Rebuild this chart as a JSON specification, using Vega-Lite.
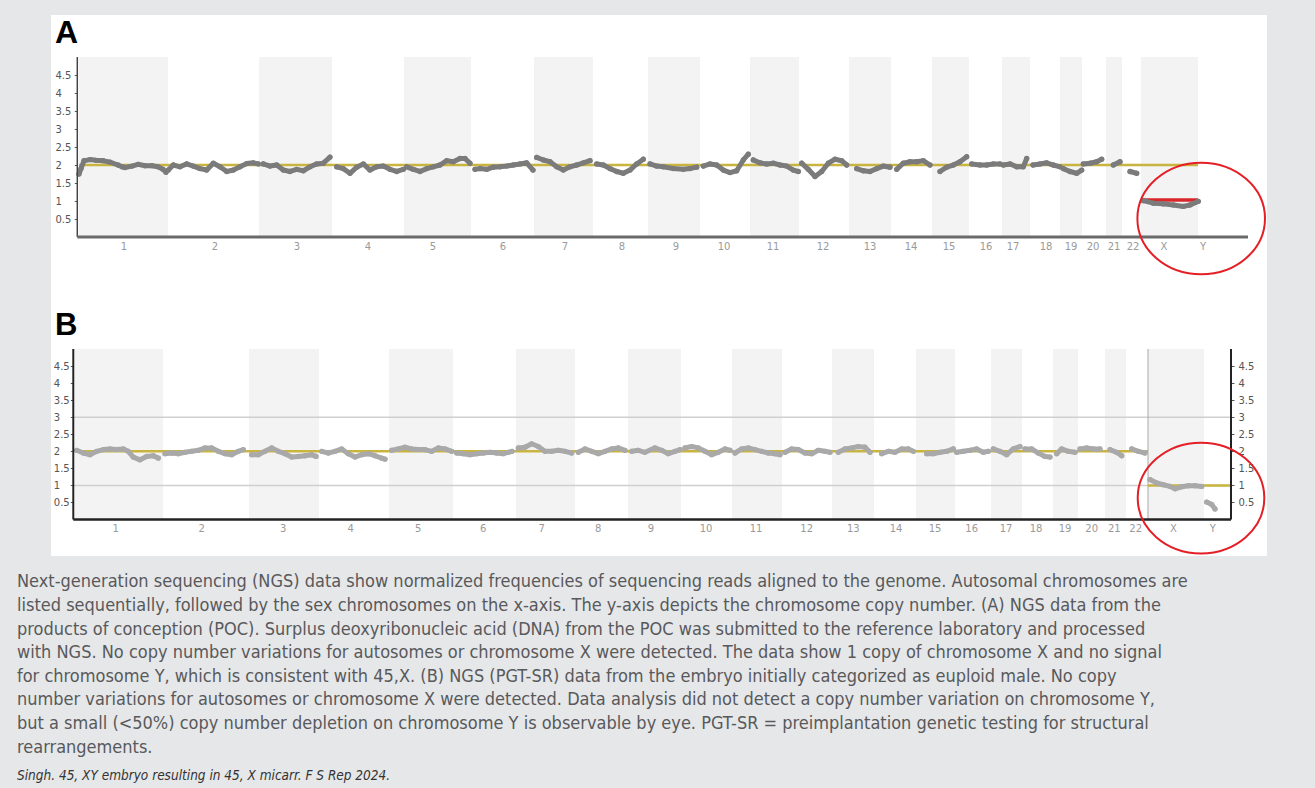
{
 "$schema": "https://vega.github.io/schema/vega-lite/v6.json",
 "background": "#e6e7e9",
 "padding": {"left": 17, "top": 15, "right": 48, "bottom": 12},
 "config": {"view": {"stroke": null}, "font": "DejaVu Sans"},
 "title": {
  "text": [
   "Next-generation sequencing (NGS) data show normalized frequencies of sequencing reads aligned to the genome. Autosomal chromosomes are",
   "listed sequentially, followed by the sex chromosomes on the x-axis. The y-axis depicts the chromosome copy number. (A) NGS data from the",
   "products of conception (POC). Surplus deoxyribonucleic acid (DNA) from the POC was submitted to the reference laboratory and processed",
   "with NGS. No copy number variations for autosomes or chromosome X were detected. The data show 1 copy of chromosome X and no signal",
   "for chromosome Y, which is consistent with 45,X. (B) NGS (PGT-SR) data from the embryo initially categorized as euploid male. No copy",
   "number variations for autosomes or chromosome X were detected. Data analysis did not detect a copy number variation on chromosome Y,",
   "but a small (<50%) copy number depletion on chromosome Y is observable by eye. PGT-SR = preimplantation genetic testing for structural",
   "rearrangements."
  ],
  "orient": "bottom", "anchor": "start", "dx": -34, "offset": 16,
  "font": "DejaVu Sans Condensed, Liberation Sans Narrow, Roboto Condensed, sans-serif",
  "fontSize": 18, "fontWeight": "normal", "color": "#58595b", "lineHeight": 23.6,
  "subtitle": "Singh. 45, XY embryo resulting in 45, X micarr. F S Rep 2024.",
  "subtitleFont": "DejaVu Sans Condensed, Liberation Sans Narrow, sans-serif",
  "subtitleFontSize": 13.5, "subtitleFontStyle": "italic", "subtitleColor": "#333333", "subtitlePadding": 12
 },
 "spacing": 0,
 "datasets": {
  "chrA": [
   {"chr":"1","start":0,"end":89,"lab":45,"shade":1},
   {"chr":"2","start":89,"end":180,"lab":136,"shade":0},
   {"chr":"3","start":180,"end":253,"lab":218,"shade":1},
   {"chr":"4","start":253,"end":325,"lab":289,"shade":0},
   {"chr":"5","start":325,"end":392,"lab":354,"shade":1},
   {"chr":"6","start":392,"end":455,"lab":424,"shade":0},
   {"chr":"7","start":455,"end":514,"lab":486,"shade":1},
   {"chr":"8","start":514,"end":569,"lab":543,"shade":0},
   {"chr":"9","start":569,"end":621,"lab":597,"shade":1},
   {"chr":"10","start":621,"end":671,"lab":645,"shade":0},
   {"chr":"11","start":671,"end":720,"lab":694,"shade":1},
   {"chr":"12","start":720,"end":770,"lab":744,"shade":0},
   {"chr":"13","start":770,"end":812,"lab":791,"shade":1},
   {"chr":"14","start":812,"end":853,"lab":832,"shade":0},
   {"chr":"15","start":853,"end":890,"lab":870,"shade":1},
   {"chr":"16","start":890,"end":923,"lab":907,"shade":0},
   {"chr":"17","start":923,"end":951,"lab":934,"shade":1},
   {"chr":"18","start":951,"end":981,"lab":967,"shade":0},
   {"chr":"19","start":981,"end":1003,"lab":992,"shade":1},
   {"chr":"20","start":1003,"end":1027,"lab":1014,"shade":0},
   {"chr":"21","start":1027,"end":1043,"lab":1035,"shade":1},
   {"chr":"22","start":1043,"end":1062,"lab":1054,"shade":0},
   {"chr":"X","start":1062,"end":1119,"lab":1085,"shade":1},
   {"chr":"Y","start":1119,"end":1141,"lab":1124,"shade":0}
  ],
  "chrB": [
   {"chr":"1","start":0,"end":88,"lab":40.7,"shade":1},
   {"chr":"2","start":88,"end":174,"lab":126.7,"shade":0},
   {"chr":"3","start":174,"end":244,"lab":208.3,"shade":1},
   {"chr":"4","start":244,"end":314,"lab":275.7,"shade":0},
   {"chr":"5","start":314,"end":378,"lab":343.3,"shade":1},
   {"chr":"6","start":378,"end":441,"lab":408.3,"shade":0},
   {"chr":"7","start":441,"end":500,"lab":466.7,"shade":1},
   {"chr":"8","start":500,"end":553,"lab":523.3,"shade":0},
   {"chr":"9","start":553,"end":606,"lab":576,"shade":1},
   {"chr":"10","start":606,"end":657,"lab":631,"shade":0},
   {"chr":"11","start":657,"end":707,"lab":681,"shade":1},
   {"chr":"12","start":707,"end":757,"lab":731.7,"shade":0},
   {"chr":"13","start":757,"end":799,"lab":778.3,"shade":1},
   {"chr":"14","start":799,"end":841,"lab":821,"shade":0},
   {"chr":"15","start":841,"end":880,"lab":860,"shade":1},
   {"chr":"16","start":880,"end":916,"lab":896.7,"shade":0},
   {"chr":"17","start":916,"end":947,"lab":931,"shade":1},
   {"chr":"18","start":947,"end":978,"lab":961,"shade":0},
   {"chr":"19","start":978,"end":1003,"lab":990,"shade":1},
   {"chr":"20","start":1003,"end":1030,"lab":1016.7,"shade":0},
   {"chr":"21","start":1030,"end":1051,"lab":1039.3,"shade":1},
   {"chr":"22","start":1051,"end":1073,"lab":1060.7,"shade":0},
   {"chr":"X","start":1073,"end":1129,"lab":1098.3,"shade":1},
   {"chr":"Y","start":1129,"end":1156,"lab":1137.7,"shade":0}
  ],
  "ptsA": [
   {"chr":"1","pos":0,"cn":1.75},{"chr":"1","pos":2,"cn":1.9},{"chr":"1","pos":5,"cn":2.12},{"chr":"1","pos":11,"cn":2.15},{"chr":"1","pos":17,"cn":2.13},{"chr":"1","pos":24,"cn":2.12},{"chr":"1","pos":31,"cn":2.08},{"chr":"1","pos":39,"cn":2.0},{"chr":"1","pos":43,"cn":1.95},{"chr":"1","pos":46,"cn":1.93},{"chr":"1","pos":53,"cn":1.97},{"chr":"1","pos":59,"cn":2.02},{"chr":"1","pos":66,"cn":1.98},{"chr":"1","pos":73,"cn":1.98},{"chr":"1","pos":79,"cn":1.95},{"chr":"1","pos":84,"cn":1.88},{"chr":"1","pos":87,"cn":1.8},
   {"chr":"2","pos":89.3,"cn":1.86},{"chr":"2","pos":94.3,"cn":2.0},{"chr":"2","pos":101,"cn":1.95},{"chr":"2","pos":107.7,"cn":2.03},{"chr":"2","pos":114.3,"cn":1.97},{"chr":"2","pos":121,"cn":1.9},{"chr":"2","pos":127.7,"cn":1.86},{"chr":"2","pos":134.3,"cn":2.05},{"chr":"2","pos":141,"cn":1.95},{"chr":"2","pos":147.7,"cn":1.82},{"chr":"2","pos":154.3,"cn":1.86},{"chr":"2","pos":161,"cn":1.95},{"chr":"2","pos":167.7,"cn":2.04},{"chr":"2","pos":174.3,"cn":2.06},{"chr":"2","pos":179.3,"cn":2.03},
   {"chr":"3","pos":184.3,"cn":2.03},{"chr":"3","pos":191,"cn":1.97},{"chr":"3","pos":197.7,"cn":2.0},{"chr":"3","pos":204.3,"cn":1.86},{"chr":"3","pos":211,"cn":1.82},{"chr":"3","pos":217.7,"cn":1.88},{"chr":"3","pos":224.3,"cn":1.84},{"chr":"3","pos":231,"cn":1.95},{"chr":"3","pos":237.7,"cn":2.03},{"chr":"3","pos":244.3,"cn":2.05},{"chr":"3","pos":251,"cn":2.22},
   {"chr":"4","pos":257.7,"cn":1.95},{"chr":"4","pos":264.3,"cn":1.9},{"chr":"4","pos":271,"cn":1.77},{"chr":"4","pos":277.7,"cn":1.94},{"chr":"4","pos":284.3,"cn":2.03},{"chr":"4","pos":291,"cn":1.86},{"chr":"4","pos":297.7,"cn":1.95},{"chr":"4","pos":304.3,"cn":1.97},{"chr":"4","pos":311,"cn":1.88},{"chr":"4","pos":317.7,"cn":1.82},{"chr":"4","pos":324.3,"cn":1.88},
   {"chr":"5","pos":327.7,"cn":1.95},{"chr":"5","pos":334.3,"cn":1.88},{"chr":"5","pos":341,"cn":1.82},{"chr":"5","pos":347.7,"cn":1.9},{"chr":"5","pos":354.3,"cn":1.95},{"chr":"5","pos":361,"cn":2.0},{"chr":"5","pos":367.7,"cn":2.12},{"chr":"5","pos":374.3,"cn":2.09},{"chr":"5","pos":381,"cn":2.18},{"chr":"5","pos":386,"cn":2.18},{"chr":"5","pos":391,"cn":2.05},
   {"chr":"6","pos":396,"cn":1.88},{"chr":"6","pos":401,"cn":1.9},{"chr":"6","pos":407.7,"cn":1.88},{"chr":"6","pos":414.3,"cn":1.94},{"chr":"6","pos":421,"cn":1.95},{"chr":"6","pos":427.7,"cn":1.97},{"chr":"6","pos":434.3,"cn":2.0},{"chr":"6","pos":441,"cn":2.03},{"chr":"6","pos":447.7,"cn":2.06},{"chr":"6","pos":454,"cn":1.86},
   {"chr":"7","pos":457.7,"cn":2.21},{"chr":"7","pos":464.3,"cn":2.14},{"chr":"7","pos":471,"cn":2.09},{"chr":"7","pos":477.7,"cn":1.95},{"chr":"7","pos":484.3,"cn":1.86},{"chr":"7","pos":491,"cn":1.95},{"chr":"7","pos":497.7,"cn":2.0},{"chr":"7","pos":504.3,"cn":2.06},{"chr":"7","pos":511,"cn":2.12},
   {"chr":"8","pos":517.7,"cn":2.03},{"chr":"8","pos":524.3,"cn":2.0},{"chr":"8","pos":531,"cn":1.9},{"chr":"8","pos":537.7,"cn":1.82},{"chr":"8","pos":544.3,"cn":1.77},{"chr":"8","pos":551,"cn":1.86},{"chr":"8","pos":557.7,"cn":2.03},{"chr":"8","pos":564.3,"cn":2.16},
   {"chr":"9","pos":571,"cn":2.03},{"chr":"9","pos":577.7,"cn":1.97},{"chr":"9","pos":584.3,"cn":1.95},{"chr":"9","pos":594.3,"cn":1.9},{"chr":"9","pos":604.3,"cn":1.88},{"chr":"9","pos":611,"cn":1.9},{"chr":"9","pos":617.7,"cn":1.94},
   {"chr":"10","pos":624.3,"cn":1.97},{"chr":"10","pos":631,"cn":2.03},{"chr":"10","pos":637.7,"cn":2.0},{"chr":"10","pos":644.3,"cn":1.86},{"chr":"10","pos":651,"cn":1.79},{"chr":"10","pos":657.7,"cn":1.84},{"chr":"10","pos":664.3,"cn":2.14},{"chr":"10","pos":669.3,"cn":2.3},
   {"chr":"11","pos":674.3,"cn":2.14},{"chr":"11","pos":681,"cn":2.06},{"chr":"11","pos":687.7,"cn":2.03},{"chr":"11","pos":694.3,"cn":2.05},{"chr":"11","pos":701,"cn":2.0},{"chr":"11","pos":707.7,"cn":1.97},{"chr":"11","pos":714.3,"cn":1.86},{"chr":"11","pos":719.3,"cn":1.82},
   {"chr":"12","pos":722.7,"cn":2.05},{"chr":"12","pos":729.3,"cn":1.88},{"chr":"12","pos":736,"cn":1.68},{"chr":"12","pos":742.7,"cn":1.82},{"chr":"12","pos":749.3,"cn":2.05},{"chr":"12","pos":756,"cn":2.16},{"chr":"12","pos":762.7,"cn":2.12},{"chr":"12","pos":767.7,"cn":2.0},
   {"chr":"13","pos":777.7,"cn":1.9},{"chr":"13","pos":784.3,"cn":1.84},{"chr":"13","pos":791,"cn":1.82},{"chr":"13","pos":797.7,"cn":1.9},{"chr":"13","pos":804.3,"cn":1.97},{"chr":"13","pos":811,"cn":1.94},
   {"chr":"14","pos":817.7,"cn":1.88},{"chr":"14","pos":824.3,"cn":2.05},{"chr":"14","pos":831,"cn":2.09},{"chr":"14","pos":837.7,"cn":2.09},{"chr":"14","pos":844.3,"cn":2.12},{"chr":"14","pos":851,"cn":2.0},
   {"chr":"15","pos":861,"cn":1.82},{"chr":"15","pos":867.7,"cn":1.94},{"chr":"15","pos":874.3,"cn":2.0},{"chr":"15","pos":881,"cn":2.09},{"chr":"15","pos":887.7,"cn":2.23},
   {"chr":"16","pos":892.7,"cn":2.03},{"chr":"16","pos":901,"cn":2.0},{"chr":"16","pos":907.7,"cn":2.0},{"chr":"16","pos":914.3,"cn":2.03},{"chr":"16","pos":921,"cn":2.03},
   {"chr":"17","pos":924.3,"cn":2.0},{"chr":"17","pos":931,"cn":2.03},{"chr":"17","pos":937.7,"cn":1.95},{"chr":"17","pos":944.3,"cn":1.95},{"chr":"17","pos":947.7,"cn":2.18},
   {"chr":"18","pos":954,"cn":2.0},{"chr":"18","pos":961,"cn":2.03},{"chr":"18","pos":967.7,"cn":2.06},{"chr":"18","pos":974.3,"cn":2.0},{"chr":"18","pos":981,"cn":1.95},
   {"chr":"19","pos":984.3,"cn":1.9},{"chr":"19","pos":991,"cn":1.82},{"chr":"19","pos":997.7,"cn":1.77},{"chr":"19","pos":1002.7,"cn":1.86},
   {"chr":"20","pos":1004.3,"cn":2.03},{"chr":"20","pos":1011,"cn":2.05},{"chr":"20","pos":1017.7,"cn":2.09},{"chr":"20","pos":1022.7,"cn":2.16},
   {"chr":"21","pos":1034.3,"cn":2.0},{"chr":"21","pos":1041,"cn":2.09},
   {"chr":"22","pos":1051,"cn":1.82},{"chr":"22","pos":1057.7,"cn":1.77},
   {"chr":"X","pos":1064.3,"cn":1.01},{"chr":"X","pos":1074.3,"cn":0.94},{"chr":"X","pos":1084.3,"cn":0.92},{"chr":"X","pos":1094.3,"cn":0.89},{"chr":"X","pos":1104.3,"cn":0.85},{"chr":"X","pos":1111,"cn":0.89},{"chr":"X","pos":1119.3,"cn":0.99}
  ],
  "ptsB": [
   {"chr":"1","pos":1.7,"cn":2.03},{"chr":"1","pos":8.3,"cn":1.95},{"chr":"1","pos":15,"cn":1.9},{"chr":"1","pos":21.7,"cn":2.0},{"chr":"1","pos":28.3,"cn":2.05},{"chr":"1","pos":35,"cn":2.07},{"chr":"1","pos":41.7,"cn":2.05},{"chr":"1","pos":48.3,"cn":2.07},{"chr":"1","pos":53.3,"cn":2.0},{"chr":"1","pos":58.3,"cn":1.83},{"chr":"1","pos":65,"cn":1.75},{"chr":"1","pos":71.7,"cn":1.85},{"chr":"1","pos":78.3,"cn":1.87},{"chr":"1","pos":83.3,"cn":1.8},
   {"chr":"2","pos":90,"cn":1.93},{"chr":"2","pos":96.7,"cn":1.95},{"chr":"2","pos":103.3,"cn":1.93},{"chr":"2","pos":110,"cn":1.97},{"chr":"2","pos":116.7,"cn":2.0},{"chr":"2","pos":123.3,"cn":2.03},{"chr":"2","pos":130,"cn":2.1},{"chr":"2","pos":136.7,"cn":2.1},{"chr":"2","pos":143.3,"cn":2.0},{"chr":"2","pos":150,"cn":1.93},{"chr":"2","pos":156.7,"cn":1.9},{"chr":"2","pos":163.3,"cn":2.0},{"chr":"2","pos":168.3,"cn":2.05},
   {"chr":"3","pos":176.7,"cn":1.9},{"chr":"3","pos":183.3,"cn":1.9},{"chr":"3","pos":190,"cn":2.0},{"chr":"3","pos":196.7,"cn":2.1},{"chr":"3","pos":203.3,"cn":2.0},{"chr":"3","pos":210,"cn":1.93},{"chr":"3","pos":216.7,"cn":1.83},{"chr":"3","pos":223.3,"cn":1.85},{"chr":"3","pos":230,"cn":1.87},{"chr":"3","pos":236.7,"cn":1.9},{"chr":"3","pos":241,"cn":1.85},
   {"chr":"4","pos":246.7,"cn":2.0},{"chr":"4","pos":253.3,"cn":1.95},{"chr":"4","pos":260,"cn":2.0},{"chr":"4","pos":266.7,"cn":2.07},{"chr":"4","pos":273.3,"cn":1.93},{"chr":"4","pos":280,"cn":1.83},{"chr":"4","pos":286.7,"cn":1.9},{"chr":"4","pos":293.3,"cn":1.93},{"chr":"4","pos":300,"cn":1.87},{"chr":"4","pos":306.7,"cn":1.8},{"chr":"4","pos":310,"cn":1.77},
   {"chr":"5","pos":316.7,"cn":2.03},{"chr":"5","pos":323.3,"cn":2.07},{"chr":"5","pos":330,"cn":2.12},{"chr":"5","pos":336.7,"cn":2.07},{"chr":"5","pos":343.3,"cn":2.05},{"chr":"5","pos":350,"cn":2.05},{"chr":"5","pos":356.7,"cn":2.0},{"chr":"5","pos":363.3,"cn":2.1},{"chr":"5","pos":370,"cn":2.07},{"chr":"5","pos":376.7,"cn":2.0},
   {"chr":"6","pos":381.7,"cn":1.95},{"chr":"6","pos":388.3,"cn":1.93},{"chr":"6","pos":395,"cn":1.9},{"chr":"6","pos":401.7,"cn":1.93},{"chr":"6","pos":408.3,"cn":1.95},{"chr":"6","pos":415,"cn":1.97},{"chr":"6","pos":421.7,"cn":1.95},{"chr":"6","pos":428.3,"cn":1.93},{"chr":"6","pos":433.3,"cn":1.97},{"chr":"6","pos":437,"cn":2.0},
   {"chr":"7","pos":443.3,"cn":2.1},{"chr":"7","pos":450,"cn":2.12},{"chr":"7","pos":456.7,"cn":2.22},{"chr":"7","pos":463.3,"cn":2.14},{"chr":"7","pos":470,"cn":2.0},{"chr":"7","pos":476.7,"cn":2.0},{"chr":"7","pos":483.3,"cn":2.03},{"chr":"7","pos":490,"cn":2.0},{"chr":"7","pos":496.7,"cn":1.95},
   {"chr":"8","pos":503.3,"cn":1.97},{"chr":"8","pos":510,"cn":2.07},{"chr":"8","pos":516.7,"cn":2.0},{"chr":"8","pos":523.3,"cn":1.93},{"chr":"8","pos":530,"cn":2.0},{"chr":"8","pos":536.7,"cn":2.07},{"chr":"8","pos":543.3,"cn":2.1},{"chr":"8","pos":550,"cn":2.03},
   {"chr":"9","pos":556.7,"cn":2.0},{"chr":"9","pos":563.3,"cn":2.03},{"chr":"9","pos":570,"cn":1.97},{"chr":"9","pos":580,"cn":2.1},{"chr":"9","pos":586.7,"cn":2.03},{"chr":"9","pos":593.3,"cn":1.93},{"chr":"9","pos":600,"cn":2.0},{"chr":"9","pos":605,"cn":2.05},
   {"chr":"10","pos":610,"cn":2.1},{"chr":"10","pos":616.7,"cn":2.14},{"chr":"10","pos":623.3,"cn":2.1},{"chr":"10","pos":630,"cn":2.0},{"chr":"10","pos":636.7,"cn":1.9},{"chr":"10","pos":643.3,"cn":1.97},{"chr":"10","pos":650,"cn":2.07},{"chr":"10","pos":655,"cn":2.03},
   {"chr":"11","pos":660,"cn":1.95},{"chr":"11","pos":666.7,"cn":2.07},{"chr":"11","pos":673.3,"cn":2.1},{"chr":"11","pos":680,"cn":2.05},{"chr":"11","pos":686.7,"cn":2.0},{"chr":"11","pos":693.3,"cn":1.95},{"chr":"11","pos":700,"cn":1.93},{"chr":"11","pos":705,"cn":1.9},
   {"chr":"12","pos":710,"cn":1.97},{"chr":"12","pos":716.7,"cn":2.07},{"chr":"12","pos":723.3,"cn":2.05},{"chr":"12","pos":730,"cn":1.95},{"chr":"12","pos":736.7,"cn":1.93},{"chr":"12","pos":743.3,"cn":2.03},{"chr":"12","pos":750,"cn":2.0},{"chr":"12","pos":755,"cn":1.97},
   {"chr":"13","pos":763.3,"cn":1.97},{"chr":"13","pos":770,"cn":2.07},{"chr":"13","pos":776.7,"cn":2.1},{"chr":"13","pos":783.3,"cn":2.14},{"chr":"13","pos":790,"cn":2.12},{"chr":"13","pos":795,"cn":1.97},
   {"chr":"14","pos":806.7,"cn":1.93},{"chr":"14","pos":813.3,"cn":2.0},{"chr":"14","pos":820,"cn":1.97},{"chr":"14","pos":826.7,"cn":2.07},{"chr":"14","pos":833.3,"cn":2.07},{"chr":"14","pos":838.3,"cn":2.0},
   {"chr":"15","pos":851.7,"cn":1.93},{"chr":"15","pos":858.3,"cn":1.93},{"chr":"15","pos":865,"cn":1.97},{"chr":"15","pos":871.7,"cn":2.0},{"chr":"15","pos":878.3,"cn":2.07},
   {"chr":"16","pos":881.7,"cn":1.97},{"chr":"16","pos":888.3,"cn":2.0},{"chr":"16","pos":895,"cn":2.03},{"chr":"16","pos":901.7,"cn":2.07},{"chr":"16","pos":908.3,"cn":1.97},{"chr":"16","pos":913.3,"cn":2.0},
   {"chr":"17","pos":918.3,"cn":2.07},{"chr":"17","pos":925,"cn":2.0},{"chr":"17","pos":931.7,"cn":1.9},{"chr":"17","pos":938.3,"cn":2.07},{"chr":"17","pos":945,"cn":2.14},
   {"chr":"18","pos":950,"cn":2.07},{"chr":"18","pos":956.7,"cn":2.07},{"chr":"18","pos":963.3,"cn":1.95},{"chr":"18","pos":970,"cn":1.85},{"chr":"18","pos":975,"cn":1.83},
   {"chr":"19","pos":981.7,"cn":1.93},{"chr":"19","pos":986.7,"cn":2.07},{"chr":"19","pos":993.3,"cn":2.0},{"chr":"19","pos":1000,"cn":1.97},
   {"chr":"20","pos":1005,"cn":2.07},{"chr":"20","pos":1011.7,"cn":2.1},{"chr":"20","pos":1018.3,"cn":2.07},{"chr":"20","pos":1025,"cn":2.07},
   {"chr":"21","pos":1035,"cn":2.05},{"chr":"21","pos":1041.7,"cn":1.97},{"chr":"21","pos":1046.7,"cn":1.87},
   {"chr":"22","pos":1056.7,"cn":2.07},{"chr":"22","pos":1063.3,"cn":2.0},{"chr":"22","pos":1070,"cn":1.95},
   {"chr":"X","pos":1075,"cn":1.17},{"chr":"X","pos":1081.7,"cn":1.07},{"chr":"X","pos":1088.3,"cn":1.02},{"chr":"X","pos":1095,"cn":0.97},{"chr":"X","pos":1100,"cn":0.9},{"chr":"X","pos":1106.7,"cn":0.96},{"chr":"X","pos":1113.3,"cn":0.99},{"chr":"X","pos":1120,"cn":0.99},{"chr":"X","pos":1126.7,"cn":0.97},
   {"chr":"Y","pos":1131.7,"cn":0.51},{"chr":"Y","pos":1136.7,"cn":0.44},{"chr":"Y","pos":1140,"cn":0.31}
  ]
 },
 "vconcat": [
  {
   "width": 1216, "height": 280,
   "view": {"fill": "white", "stroke": null},
   "resolve": {"axis": {"y": "independent"}},
   "layer": [
    {
     "data": {"name": "chrA"},
     "transform": [{"filter": "datum.shade == 1"}],
     "mark": {"type": "rect", "color": "#f3f3f3"},
     "encoding": {
      "x": {"field": "start", "type": "quantitative", "scale": {"domain": [-28, 1188], "nice": false, "zero": false}, "axis": null},
      "x2": {"field": "end"},
      "y": {"datum": 0, "type": "quantitative", "scale": {"domain": [-1.6111, 6.1667], "nice": false, "zero": false},
       "axis": {"orient": "left", "offset": -26.3, "values": [0.5,1,1.5,2,2.5,3,3.5,4,4.5], "labelExpr": "'' + datum.value", "domain": false, "grid": false, "tickSize": 3, "tickColor": "#555555", "tickWidth": 1, "labelAlign": "left", "labelBaseline": "middle", "labelPadding": 19.3, "labelFont": "DejaVu Sans", "labelFontSize": 10, "labelColor": "#555555", "labelFlush": false, "labelOverlap": false, "title": null}},
      "y2": {"datum": 5}
     }
    },
    {
     "data": {"values": [{}]},
     "mark": {"type": "rule", "color": "#c9b43f", "strokeWidth": 2.5},
     "encoding": {
      "x": {"datum": 0, "type": "quantitative", "axis": null},
      "x2": {"datum": 1119},
      "y": {"datum": 2, "type": "quantitative", "axis": null}
     }
    },
    {
     "data": {"values": [{}]},
     "mark": {"type": "rule", "color": "#d9262b", "strokeWidth": 3.5},
     "encoding": {
      "x": {"datum": 1062, "type": "quantitative", "axis": null},
      "x2": {"datum": 1119},
      "y": {"datum": 1.03, "type": "quantitative", "axis": null}
     }
    },
    {
     "data": {"name": "ptsA"},
     "mark": {"type": "line", "color": "#7b7b7b", "strokeWidth": 5, "strokeCap": "round", "strokeJoin": "round"},
     "encoding": {
      "x": {"field": "pos", "type": "quantitative", "axis": null},
      "y": {"field": "cn", "type": "quantitative", "axis": null},
      "detail": {"field": "chr"}
     }
    },
    {
     "data": {"name": "ptsA"},
     "mark": {"type": "circle", "color": "#7b7b7b", "size": 28, "opacity": 1},
     "encoding": {
      "x": {"field": "pos", "type": "quantitative", "axis": null},
      "y": {"field": "cn", "type": "quantitative", "axis": null}
     }
    },
    {
     "data": {"values": [{}]},
     "mark": {"type": "rule", "color": "#444444", "strokeWidth": 1.5},
     "encoding": {
      "x": {"datum": -1.7, "type": "quantitative", "axis": null},
      "y": {"datum": 0, "type": "quantitative", "axis": null},
      "y2": {"datum": 5}
     }
    },
    {
     "data": {"values": [{}]},
     "mark": {"type": "rule", "color": "#6a6a6a", "strokeWidth": 3},
     "encoding": {
      "x": {"datum": -1.7, "type": "quantitative", "axis": null},
      "x2": {"datum": 1169},
      "y": {"datum": 0, "type": "quantitative", "axis": null}
     }
    },
    {
     "data": {"name": "chrA"},
     "mark": {"type": "text", "font": "DejaVu Sans", "fontSize": 10, "color": "#9a9a9a", "baseline": "middle", "align": "center"},
     "encoding": {
      "x": {"field": "lab", "type": "quantitative", "axis": null},
      "y": {"datum": -0.28, "type": "quantitative", "axis": null},
      "text": {"field": "chr"}
     }
    },
    {
     "data": {"values": [{}]},
     "mark": {"type": "text", "text": "A", "font": "Liberation Sans", "fontWeight": "bold", "fontSize": 32, "color": "#000000", "align": "left", "baseline": "alphabetic"},
     "encoding": {
      "x": {"datum": -24, "type": "quantitative", "axis": null},
      "y": {"datum": 5.389, "type": "quantitative", "axis": null}
     }
    },
    {
     "data": {"values": [{}]},
     "mark": {"type": "point", "shape": "M-1,0A1,0.875,0,1,1,1,0A1,0.875,0,1,1,-1,0Z", "size": 16282, "filled": false, "stroke": "#e41f26", "strokeWidth": 2, "opacity": 1},
     "encoding": {
      "x": {"datum": 1122.2, "type": "quantitative", "axis": null},
      "y": {"datum": 0.514, "type": "quantitative", "axis": null}
     }
    }
   ]
  },
  {
   "width": 1216, "height": 261,
   "view": {"fill": "white", "stroke": null},
   "resolve": {"axis": {"y": "independent"}},
   "layer": [
    {
     "data": {"name": "chrB"},
     "transform": [{"filter": "datum.shade == 1"}],
     "mark": {"type": "rect", "color": "#f3f3f3"},
     "encoding": {
      "x": {"field": "start", "type": "quantitative", "scale": {"domain": [-24, 1192], "nice": false, "zero": false}, "axis": null},
      "x2": {"field": "end"},
      "y": {"datum": 0, "type": "quantitative", "scale": {"domain": [-1.0704, 6.5836], "nice": false, "zero": false}, "axis": null},
      "y2": {"datum": 5}
     }
    },
    {
     "data": {"values": [{"v": 1}, {"v": 3}]},
     "mark": {"type": "rule", "color": "#cfcfcf", "strokeWidth": 1.5},
     "encoding": {
      "x": {"datum": -1.7, "type": "quantitative", "axis": null},
      "x2": {"datum": 1156},
      "y": {"field": "v", "type": "quantitative",
       "axis": {"orient": "right", "offset": -36, "values": [0.5,1,1.5,2,2.5,3,3.5,4,4.5], "labelExpr": "'' + datum.value", "domain": false, "grid": false, "tickSize": 3, "tickColor": "#555555", "tickWidth": 1, "labelAlign": "left", "labelBaseline": "middle", "labelPadding": 4, "labelFont": "DejaVu Sans", "labelFontSize": 10, "labelColor": "#555555", "labelFlush": false, "labelOverlap": false, "title": null}}
     }
    },
    {
     "data": {"values": [{}]},
     "mark": {"type": "rule", "color": "#a8a8a8", "strokeWidth": 1},
     "encoding": {
      "x": {"datum": 1073, "type": "quantitative", "axis": null},
      "y": {"datum": 0, "type": "quantitative", "axis": null},
      "y2": {"datum": 5}
     }
    },
    {
     "data": {"values": [{}]},
     "mark": {"type": "rule", "color": "#c9b43f", "strokeWidth": 2.5},
     "encoding": {
      "x": {"datum": 0, "type": "quantitative", "axis": null},
      "x2": {"datum": 1073},
      "y": {"datum": 2, "type": "quantitative", "axis": null}
     }
    },
    {
     "data": {"values": [{}]},
     "mark": {"type": "rule", "color": "#c9b43f", "strokeWidth": 2.5},
     "encoding": {
      "x": {"datum": 1073, "type": "quantitative", "axis": null},
      "x2": {"datum": 1156},
      "y": {"datum": 1, "type": "quantitative", "axis": null}
     }
    },
    {
     "data": {"name": "ptsB"},
     "mark": {"type": "line", "color": "#a9a9a9", "strokeWidth": 5, "strokeCap": "round", "strokeJoin": "round"},
     "encoding": {
      "x": {"field": "pos", "type": "quantitative", "axis": null},
      "y": {"field": "cn", "type": "quantitative", "axis": null},
      "detail": {"field": "chr"}
     }
    },
    {
     "data": {"name": "ptsB"},
     "mark": {"type": "circle", "color": "#a9a9a9", "size": 28, "opacity": 1},
     "encoding": {
      "x": {"field": "pos", "type": "quantitative", "axis": null},
      "y": {"field": "cn", "type": "quantitative",
       "axis": {"orient": "left", "offset": -22.3, "values": [0.5,1,1.5,2,2.5,3,3.5,4,4.5], "labelExpr": "'' + datum.value", "domain": false, "grid": false, "tickSize": 3, "tickColor": "#555555", "tickWidth": 1, "labelAlign": "left", "labelBaseline": "middle", "labelPadding": 17, "labelFont": "DejaVu Sans", "labelFontSize": 10, "labelColor": "#555555", "labelFlush": false, "labelOverlap": false, "title": null}}
     }
    },
    {
     "data": {"values": [{}]},
     "mark": {"type": "rule", "color": "#222222", "strokeWidth": 2},
     "encoding": {
      "x": {"datum": -1.7, "type": "quantitative", "axis": null},
      "y": {"datum": 0, "type": "quantitative", "axis": null},
      "y2": {"datum": 5}
     }
    },
    {
     "data": {"values": [{}]},
     "mark": {"type": "rule", "color": "#222222", "strokeWidth": 2},
     "encoding": {
      "x": {"datum": 1156, "type": "quantitative", "axis": null},
      "y": {"datum": 0, "type": "quantitative", "axis": null},
      "y2": {"datum": 5}
     }
    },
    {
     "data": {"values": [{}]},
     "mark": {"type": "rule", "color": "#222222", "strokeWidth": 2.5},
     "encoding": {
      "x": {"datum": -1.7, "type": "quantitative", "axis": null},
      "x2": {"datum": 1156},
      "y": {"datum": 0, "type": "quantitative", "axis": null}
     }
    },
    {
     "data": {"name": "chrB"},
     "mark": {"type": "text", "font": "DejaVu Sans", "fontSize": 10, "color": "#9a9a9a", "baseline": "middle", "align": "center"},
     "encoding": {
      "x": {"field": "lab", "type": "quantitative", "axis": null},
      "y": {"datum": -0.279, "type": "quantitative", "axis": null},
      "text": {"field": "chr"}
     }
    },
    {
     "data": {"values": [{}]},
     "mark": {"type": "text", "text": "B", "font": "Liberation Sans", "fontWeight": "bold", "fontSize": 31, "color": "#000000", "align": "left", "baseline": "alphabetic"},
     "encoding": {
      "x": {"datum": -20, "type": "quantitative", "axis": null},
      "y": {"datum": 5.41, "type": "quantitative", "axis": null}
     }
    },
    {
     "data": {"values": [{}]},
     "mark": {"type": "point", "shape": "M-1,0A1,0.875,0,1,1,1,0A1,0.875,0,1,1,-1,0Z", "size": 16028, "filled": false, "stroke": "#e41f26", "strokeWidth": 2, "opacity": 1},
     "encoding": {
      "x": {"datum": 1126, "type": "quantitative", "axis": null},
      "y": {"datum": 0.63, "type": "quantitative", "axis": null}
     }
    }
   ]
  }
 ]
}
